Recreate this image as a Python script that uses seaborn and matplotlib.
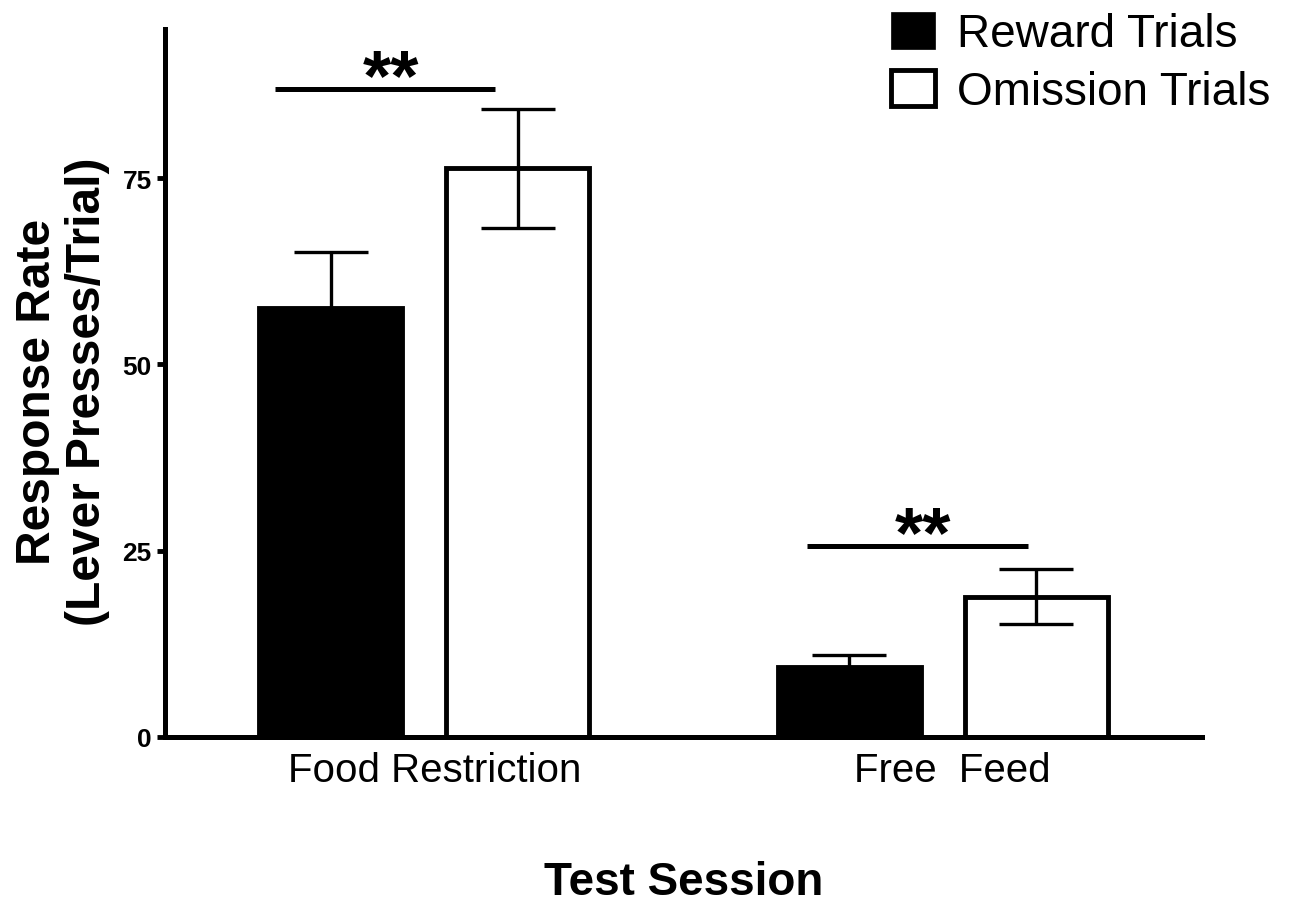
import matplotlib
matplotlib.use("Agg")
import matplotlib.pyplot as plt
from matplotlib.patches import Patch
from matplotlib.transforms import ScaledTranslation
import seaborn as sns
import pandas as pd

# Mean lever presses per trial and SEM for each test session / trial type
sessions = ["Food Restriction", "Free  Feed"]
trial_types = ["Reward Trials", "Omission Trials"]
reward_means = [57.6, 9.4]
reward_sem = [7.5, 1.6]
omission_means = [76.3, 18.8]
omission_sem = [8.0, 3.7]
yticks = [0, 25, 50, 75]

# Significance brackets: (left x, right x, height) and star positions
sig_lines = [(-0.288, 0.137, 87.0), (0.739, 1.164, 25.6)]
sig_stars = [(-0.065, 88.2), (0.961, 26.8)]

df = pd.DataFrame({
    "session": sessions * 2,
    "trial": [trial_types[0]] * 2 + [trial_types[1]] * 2,
    "rate": reward_means + omission_means,
})
sems = {trial_types[0]: reward_sem, trial_types[1]: omission_sem}
means = {trial_types[0]: reward_means, trial_types[1]: omission_means}

sns.set_theme(style="ticks")
plt.rcParams["font.family"] = ["Liberation Sans", "DejaVu Sans"]
plt.rcParams["text.color"] = "black"
plt.rcParams["axes.labelcolor"] = "black"
plt.rcParams["xtick.color"] = "black"
plt.rcParams["ytick.color"] = "black"

W, H = 1293, 912
fig = plt.figure(figsize=(W / 100, H / 100), dpi=100)
ax = fig.add_axes([165 / W, 1 - 738 / H, (1202 - 165) / W, (738 - 30) / H])

sns.barplot(
    data=df, x="session", y="rate", hue="trial", hue_order=trial_types,
    order=sessions,
    palette={trial_types[0]: "black", trial_types[1]: "white"},
    edgecolor="black", linewidth=3.5, width=0.722, gap=0.235,
    errorbar=None, ax=ax, legend=False, zorder=2,
)

# SEM error bars at the bar centres
for cont, trial in zip(ax.containers, trial_types):
    xs = [b.get_x() + b.get_width() / 2 for b in cont]
    ax.errorbar(xs, means[trial], yerr=sems[trial], fmt="none",
                ecolor="black", elinewidth=2.4, capsize=26.5,
                capthick=2.4, zorder=3)

# Significance markers
for (x0, x1, y) in sig_lines:
    ax.plot([x0, x1], [y, y], color="black", lw=3.6,
            solid_capstyle="butt", clip_on=False, zorder=4)
for (xs, ys) in sig_stars:
    ax.text(xs, ys, "**", ha="center", va="center", fontsize=52,
            fontweight="bold", color="black", zorder=5)

ax.set_xlim(-0.5, 1.5)
ax.set_ylim(0, 95)
ax.set_yticks(yticks)
ax.set_yticklabels([str(t) for t in yticks], fontsize=19, fontweight="bold")
ax.tick_params(axis="y", length=6, width=3.5, pad=3.5, colors="black")
ax.tick_params(axis="x", length=0, pad=10, labelsize=29, colors="black")
shift = ScaledTranslation(10 / 100, 0, fig.dpi_scale_trans)
for lbl in ax.get_xticklabels():
    lbl.set_transform(lbl.get_transform() + shift)

for side in ["top", "right"]:
    ax.spines[side].set_visible(False)
for side in ["left", "bottom"]:
    ax.spines[side].set_linewidth(3.6)
    ax.spines[side].set_color("black")

ax.set_xlabel("Test Session", fontsize=33, fontweight="bold")
ax.xaxis.set_label_coords(0.5, -0.174)
ax.set_ylabel("Response Rate\n(Lever Presses/Trial)", fontsize=34.5,
              fontweight="bold", linespacing=1.15)
ax.yaxis.set_label_coords(-0.053, 0.489)

handles = [Patch(facecolor="black", edgecolor="black", linewidth=0.5),
           Patch(facecolor="white", edgecolor="black", linewidth=3.5)]
fig.legend(handles, trial_types, loc="upper left",
           bbox_to_anchor=(891 / W, 1 - 13 / H), frameon=False,
           fontsize=33, handlelength=0.95, handleheight=0.85,
           handletextpad=0.5, labelspacing=0.3, borderpad=0,
           borderaxespad=0, labelcolor="black")

fig.savefig("out.png", dpi=100, facecolor="white")
